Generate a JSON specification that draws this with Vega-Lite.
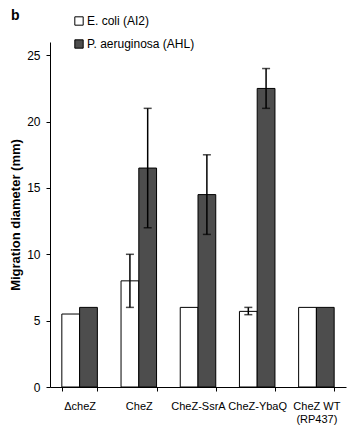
{
  "$schema": "https://vega.github.io/schema/vega-lite/v6.json",
  "width": 296,
  "height": 345,
  "autosize": "none",
  "padding": {"left": 50, "top": 42, "right": 5, "bottom": 38},
  "background": "white",
  "config": {"view": {"stroke": null}, "font": "Liberation Sans"},
  "title": {"text": "b", "anchor": "start", "frame": "group", "dx": -39, "dy": 0, "offset": -8, "fontSize": 14, "fontWeight": "bold", "font": "Liberation Sans", "color": "black"},
  "data": {"values": [
    {"cond": "ΔcheZ", "strain": "E. coli (AI2)", "v": 5.5},
    {"cond": "ΔcheZ", "strain": "P. aeruginosa (AHL)", "v": 6},
    {"cond": "CheZ", "strain": "E. coli (AI2)", "v": 8, "lo": 6, "hi": 10},
    {"cond": "CheZ", "strain": "P. aeruginosa (AHL)", "v": 16.5, "lo": 12, "hi": 21},
    {"cond": "CheZ-SsrA", "strain": "E. coli (AI2)", "v": 6},
    {"cond": "CheZ-SsrA", "strain": "P. aeruginosa (AHL)", "v": 14.5, "lo": 11.5, "hi": 17.5},
    {"cond": "CheZ-YbaQ", "strain": "E. coli (AI2)", "v": 5.7, "lo": 5.45, "hi": 6},
    {"cond": "CheZ-YbaQ", "strain": "P. aeruginosa (AHL)", "v": 22.5, "lo": 21, "hi": 24},
    {"cond": "CheZ WT", "strain": "E. coli (AI2)", "v": 6},
    {"cond": "CheZ WT", "strain": "P. aeruginosa (AHL)", "v": 6}
  ]},
  "encoding": {
    "x": {"field": "cond", "type": "nominal", "sort": ["ΔcheZ", "CheZ", "CheZ-SsrA", "CheZ-YbaQ", "CheZ WT"],
      "scale": {"paddingInner": 0.4, "paddingOuter": 0.2},
      "axis": {"title": null, "labelAngle": 0, "labelFontSize": 11, "labelColor": "black", "tickBand": "extent", "tickColor": "black", "domainColor": "black", "tickSize": 4, "labelPadding": 9,
        "labelExpr": "datum.value == 'CheZ WT' ? ['CheZ WT', '(RP437)'] : datum.label"}},
    "xOffset": {"field": "strain", "type": "nominal", "sort": ["E. coli (AI2)", "P. aeruginosa (AHL)"]}
  },
  "layer": [
    {
      "mark": {"type": "bar", "stroke": "black", "strokeWidth": 1},
      "encoding": {
        "y": {"field": "v", "type": "quantitative", "scale": {"domain": [0, 25]},
          "axis": {"title": "Migration diameter (mm)", "titleFontSize": 13, "titleFontWeight": "bold", "titleColor": "black", "labelFontSize": 12, "labelColor": "black", "grid": false, "values": [0, 5, 10, 15, 20, 25], "tickColor": "black", "domainColor": "black", "tickSize": 4, "labelPadding": 6, "titlePadding": 4}},
        "fill": {"field": "strain", "type": "nominal", "scale": {"domain": ["E. coli (AI2)", "P. aeruginosa (AHL)"], "range": ["white", "#4d4d4d"]},
          "legend": {"title": null, "orient": "none", "legendX": 23, "legendY": -27, "symbolType": "square", "symbolSize": 70, "symbolStrokeColor": "black", "symbolStrokeWidth": 1, "labelFontSize": 12, "labelColor": "black", "rowPadding": 9, "labelOffset": 2}}
      }
    },
    {
      "mark": {"type": "rule", "color": "black", "strokeWidth": 1.5},
      "encoding": {"y": {"field": "lo", "type": "quantitative"}, "y2": {"field": "hi"}}
    },
    {
      "mark": {"type": "tick", "color": "black", "thickness": 1.5, "size": 8},
      "encoding": {"y": {"field": "lo", "type": "quantitative"}}
    },
    {
      "mark": {"type": "tick", "color": "black", "thickness": 1.5, "size": 8},
      "encoding": {"y": {"field": "hi", "type": "quantitative"}}
    }
  ]
}
